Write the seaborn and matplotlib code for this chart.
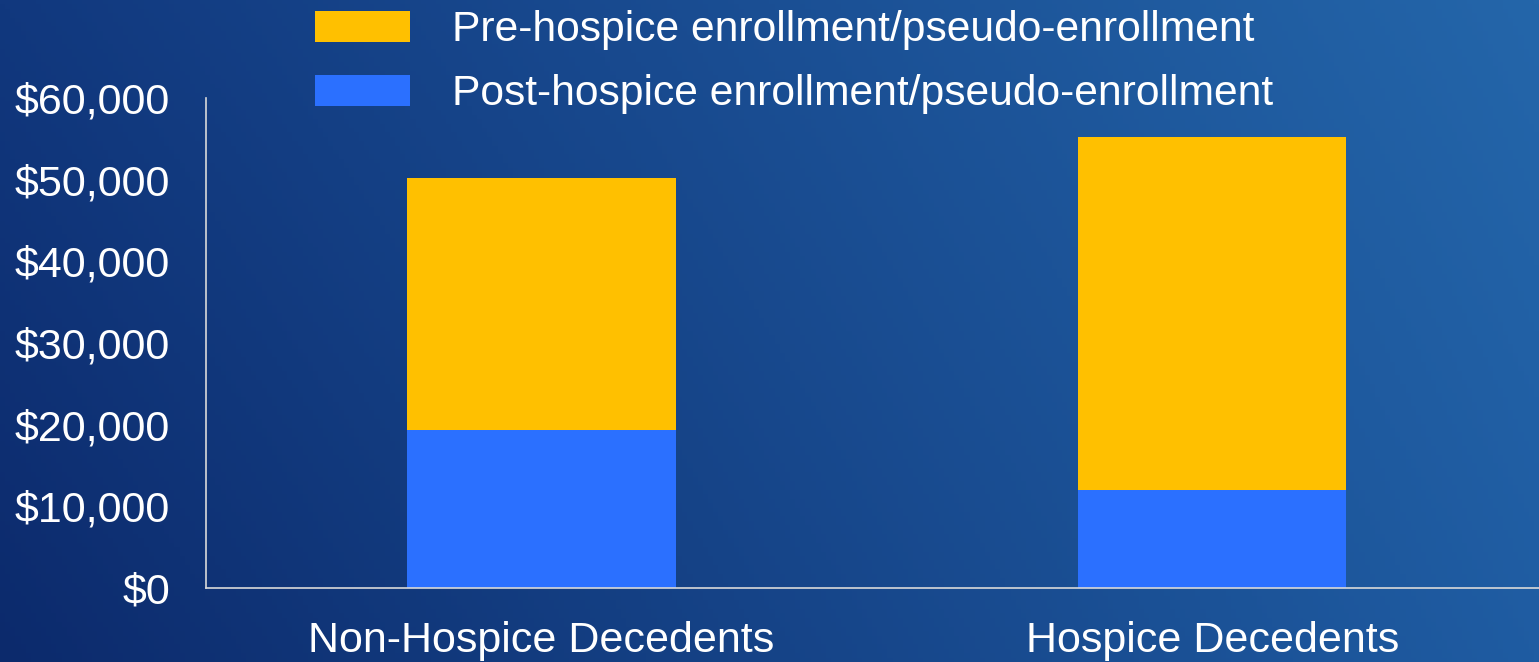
import numpy as np
import pandas as pd
import matplotlib
matplotlib.use("Agg")
import matplotlib.pyplot as plt
from matplotlib.patches import Patch
from matplotlib.ticker import FuncFormatter
import seaborn as sns

# Chart data
categories = ["Non-Hospice Decedents", "Hospice Decedents"]
post_costs = [19400, 12000]   # post-hospice enrollment/pseudo-enrollment
pre_costs = [30800, 43200]    # pre-hospice enrollment/pseudo-enrollment
series_labels = ["Pre-hospice enrollment/pseudo-enrollment",
                 "Post-hospice enrollment/pseudo-enrollment"]
y_ticks = [0, 10000, 20000, 30000, 40000, 50000, 60000]

YELLOW = "#FFC000"
BLUE = "#2B70FF"

df = pd.DataFrame({"group": categories, "post": post_costs, "pre": pre_costs})
df["total"] = df["pre"] + df["post"]

sns.set_theme(style="white")
plt.rcParams["font.family"] = ["Liberation Sans", "DejaVu Sans"]

fig = plt.figure(figsize=(15.39, 6.62), dpi=100)

# gradient background (dark navy lower-left -> lighter blue upper-right)
bg = fig.add_axes([0, 0, 1, 1], zorder=-10)
tl = np.array([0x11, 0x38, 0x7E]) / 255
tr = np.array([0x24, 0x66, 0xAA]) / 255
bl = np.array([0x0C, 0x2A, 0x6C]) / 255
br = np.array([0x1F, 0x5C, 0xA2]) / 255
u = np.linspace(0, 1, 300)[None, :, None]
v = np.linspace(0, 1, 150)[:, None, None]
grad = (1 - v) * ((1 - u) * tl + u * tr) + v * ((1 - u) * bl + u * br)
bg.imshow(grad, aspect="auto", extent=[0, 1, 0, 1])
bg.axis("off")

ax = fig.add_axes([206 / 1539, 74 / 662, 1341.5 / 1539, 489.8 / 662])
ax.patch.set_alpha(0)

# stacked bars: totals in yellow, post part in blue over them
sns.barplot(data=df, x="group", y="total", color=YELLOW, width=0.4,
            saturation=1, linewidth=0, ax=ax)
sns.barplot(data=df, x="group", y="post", color=BLUE, width=0.4,
            saturation=1, linewidth=0, ax=ax)

ax.set_xlim(-0.5, 1.5)
ax.set_ylim(0, 60000)
ax.set_yticks(y_ticks)
ax.yaxis.set_major_formatter(FuncFormatter(lambda v, p: f"${int(v):,}"))
ax.set_xlabel("")
ax.set_ylabel("")
ax.tick_params(axis="both", length=0, labelsize=31, colors="white")
ax.tick_params(axis="y", pad=26)
ax.tick_params(axis="x", pad=24)

for side in ["top", "right"]:
    ax.spines[side].set_visible(False)
for side in ["left", "bottom"]:
    ax.spines[side].set_color("#D9D9D9")
    ax.spines[side].set_linewidth(1.2)

handles = [Patch(facecolor=YELLOW, edgecolor="none"),
           Patch(facecolor=BLUE, edgecolor="none")]
fig.legend(handles, series_labels, loc="upper left",
           bbox_to_anchor=(315 / 1539, 0.985), frameon=False, fontsize=30.7,
           labelcolor="white", borderpad=0, borderaxespad=0,
           handlelength=2.23, handleheight=0.74, handletextpad=0.98,
           labelspacing=0.57)

fig.savefig("out.png", dpi=100)
